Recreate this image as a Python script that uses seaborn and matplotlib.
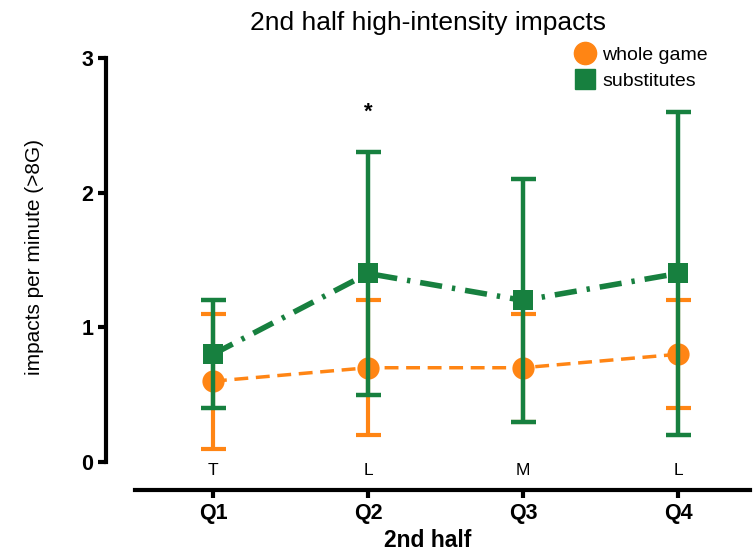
import numpy as np
import pandas as pd
import matplotlib
matplotlib.use("Agg")
import matplotlib.pyplot as plt
from matplotlib.lines import Line2D
import seaborn as sns

# data
quarters = ["Q1", "Q2", "Q3", "Q4"]
letters = ["T", "L", "M", "L"]
whole_mean = [0.6, 0.7, 0.7, 0.8]
whole_err = [0.5, 0.5, 0.4, 0.4]
subs_mean = [0.8, 1.4, 1.2, 1.4]
subs_err = [0.4, 0.9, 0.9, 1.2]
star_quarter = "Q2"
star_y = 2.6

orange = "#ff8514"
green = "#17803f"

sns.set_theme(style="white")
plt.rcParams["font.family"] = ["Liberation Sans", "DejaVu Sans"]
plt.rcParams.update({"text.color": "black", "axes.labelcolor": "black",
                     "xtick.color": "black", "ytick.color": "black"})

fig = plt.figure(figsize=(7.56, 5.53), dpi=100)
ax = fig.add_axes([0.1402, 0.1139, 0.852, 0.7812])

x = np.arange(len(quarters))
df = pd.DataFrame({
    "x": np.concatenate([x, x]),
    "y": whole_mean + subs_mean,
    "group": ["whole game"] * 4 + ["substitutes"] * 4,
})

# orange first, green on top
ax.errorbar(x, whole_mean, yerr=whole_err, fmt="none", ecolor=orange,
            elinewidth=3, capsize=9, capthick=3, zorder=2, clip_on=False)
sns.lineplot(data=df[df.group == "whole game"], x="x", y="y", ax=ax,
             color=orange, lw=2.5, linestyle=(0, (4, 2.2)), marker="o",
             markersize=16, markeredgewidth=0, zorder=3, legend=False)
ax.errorbar(x, subs_mean, yerr=subs_err, fmt="none", ecolor=green,
            elinewidth=3.2, capsize=9, capthick=3.2, zorder=4, clip_on=False)
sns.lineplot(data=df[df.group == "substitutes"], x="x", y="y", ax=ax,
             color=green, lw=4, linestyle=(0, (4, 1.8, 0.6, 1.8)), marker="s",
             markersize=15, markeredgewidth=0, zorder=5, legend=False)

for i, t in enumerate(letters):
    ax.text(i, -0.06, t, ha="center", va="center", fontsize=12.5)
ax.text(quarters.index(star_quarter), star_y, "*", ha="center", va="center",
        fontsize=16, fontweight="bold")

ax.set_xlim(-0.69, 3.465)
ax.set_ylim(-0.208, 3.0)
ax.set_xticks(x)
ax.set_xticklabels(quarters, fontsize=15.5, fontweight="bold")
ax.set_yticks([0, 1, 2, 3])
ax.set_yticklabels(["0", "1", "2", "3"], fontsize=15.5, fontweight="bold")

for side in ["top", "right"]:
    ax.spines[side].set_visible(False)
ax.spines["left"].set_bounds(0, 3)
ax.spines["bottom"].set_bounds(-0.503, 3.465)
for side in ["left", "bottom"]:
    ax.spines[side].set_linewidth(3)
    ax.spines[side].set_color("black")
ax.tick_params(axis="both", direction="out", length=6, width=3, color="black",
               left=True, bottom=True, pad=3)

ax.set_xlabel("2nd half", fontsize=16.5, fontweight="bold", labelpad=4)
ax.set_ylabel("impacts per minute (>8G)", fontsize=15)
ax.yaxis.set_label_coords(-0.097, 0.539)
ax.set_title("2nd half high-intensity impacts", fontsize=19, pad=20)

handles = [
    Line2D([], [], color=orange, marker="o", markersize=16, lw=0),
    Line2D([], [], color=green, marker="s", markersize=15, lw=0),
]
fig.legend(handles, ["whole game", "substitutes"], loc="upper left",
           bbox_to_anchor=(0.735, 0.948), frameon=False, fontsize=14,
           handletextpad=0.3, labelspacing=0.45, handlelength=1.2)

fig.savefig("out.png", dpi=100)
